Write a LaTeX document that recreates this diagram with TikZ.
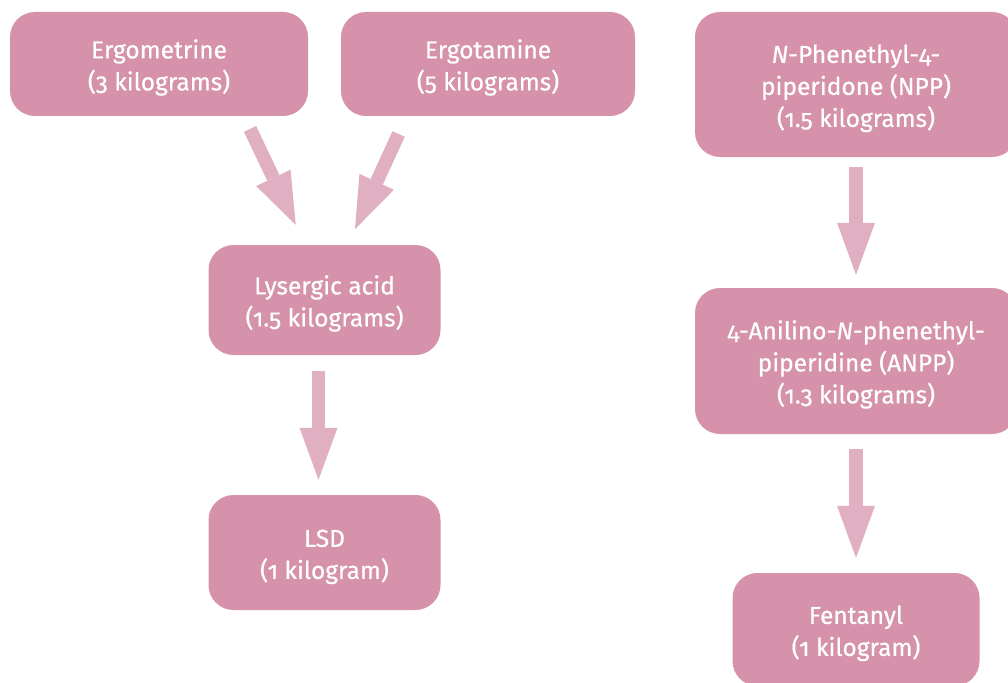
\documentclass[tikz,border=0pt]{standalone}
\usepackage{fontspec}
\setmainfont{Fira Sans}[Numbers=OldStyle, FakeBold=0.6]
\usetikzlibrary{arrows.meta}
\definecolor{boxpink}{HTML}{D592AA}
\definecolor{arrowpink}{HTML}{E0AFC2}
\newcommand{\lowerstrut}{\rule{0pt}{26pt}}
\tikzset{
  pbox/.style={rectangle, rounded corners=25pt, fill=boxpink, text=white,
    inner sep=0pt, align=center,
    font=\fontsize{24.5pt}{32pt}\selectfont},
  blockarrow/.style={draw=arrowpink, line width=13.5pt,
    -{Triangle[width=38pt,length=52pt,line width=0pt,fill=arrowpink]}}
}
\begin{document}
\begin{tikzpicture}[x=1pt,y=-1pt]
\useasboundingbox (0,0) rectangle (1008,682);
\begin{scope}
\clip (0,0) rectangle (1008,682);
\node[pbox, minimum width=298pt, minimum height=104pt] (ergom) at (159,64) {\lowerstrut Ergometrine\\(3 kilograms)};
\node[pbox, minimum width=294pt, minimum height=104pt] (ergot) at (488,64) {\lowerstrut Ergotamine\\(5 kilograms)};
\node[pbox, minimum width=322pt, minimum height=145pt] (npp) at (856,84.5) {\lowerstrut\emph{N}-Phenethyl-4-\\piperidone (NPP)\\(1.5 kilograms)};
\node[pbox, minimum width=232pt, minimum height=110pt] (lys) at (324.5,300) {\lowerstrut Lysergic acid\\(1.5 kilograms)};
\node[pbox, minimum width=232pt, minimum height=115pt] (lsd) at (324.5,552.5) {\lowerstrut LSD\\(1 kilogram)};
\node[pbox, minimum width=322pt, minimum height=146pt] (anpp) at (856,361) {\lowerstrut 4-Anilino-\emph{N}-phenethyl-\\piperidine (ANPP)\\(1.3 kilograms)};
\node[pbox, minimum width=247pt, minimum height=113pt] (fent) at (856,629.5) {\lowerstrut Fentanyl\\(1 kilogram)};
\end{scope}
\draw[blockarrow, shorten <=14.1pt, shorten >=22.1pt] ([xshift=85pt]ergom.south) -- ([xshift=-19.3pt]lys.north);
\draw[blockarrow, shorten <=19.6pt, shorten >=17.3pt] ([xshift=-81.2pt]ergot.south) -- ([xshift=23.3pt]lys.north);
\draw[blockarrow, shorten <=16pt, shorten >=15pt] ([xshift=-6pt]lys.south) -- ([xshift=-6pt]lsd.north);
\draw[blockarrow, shorten <=10pt, shorten >=13pt] (npp.south) -- (anpp.north);
\draw[blockarrow, shorten <=15pt, shorten >=15pt] (anpp.south) -- (fent.north);
\end{tikzpicture}
\end{document}
